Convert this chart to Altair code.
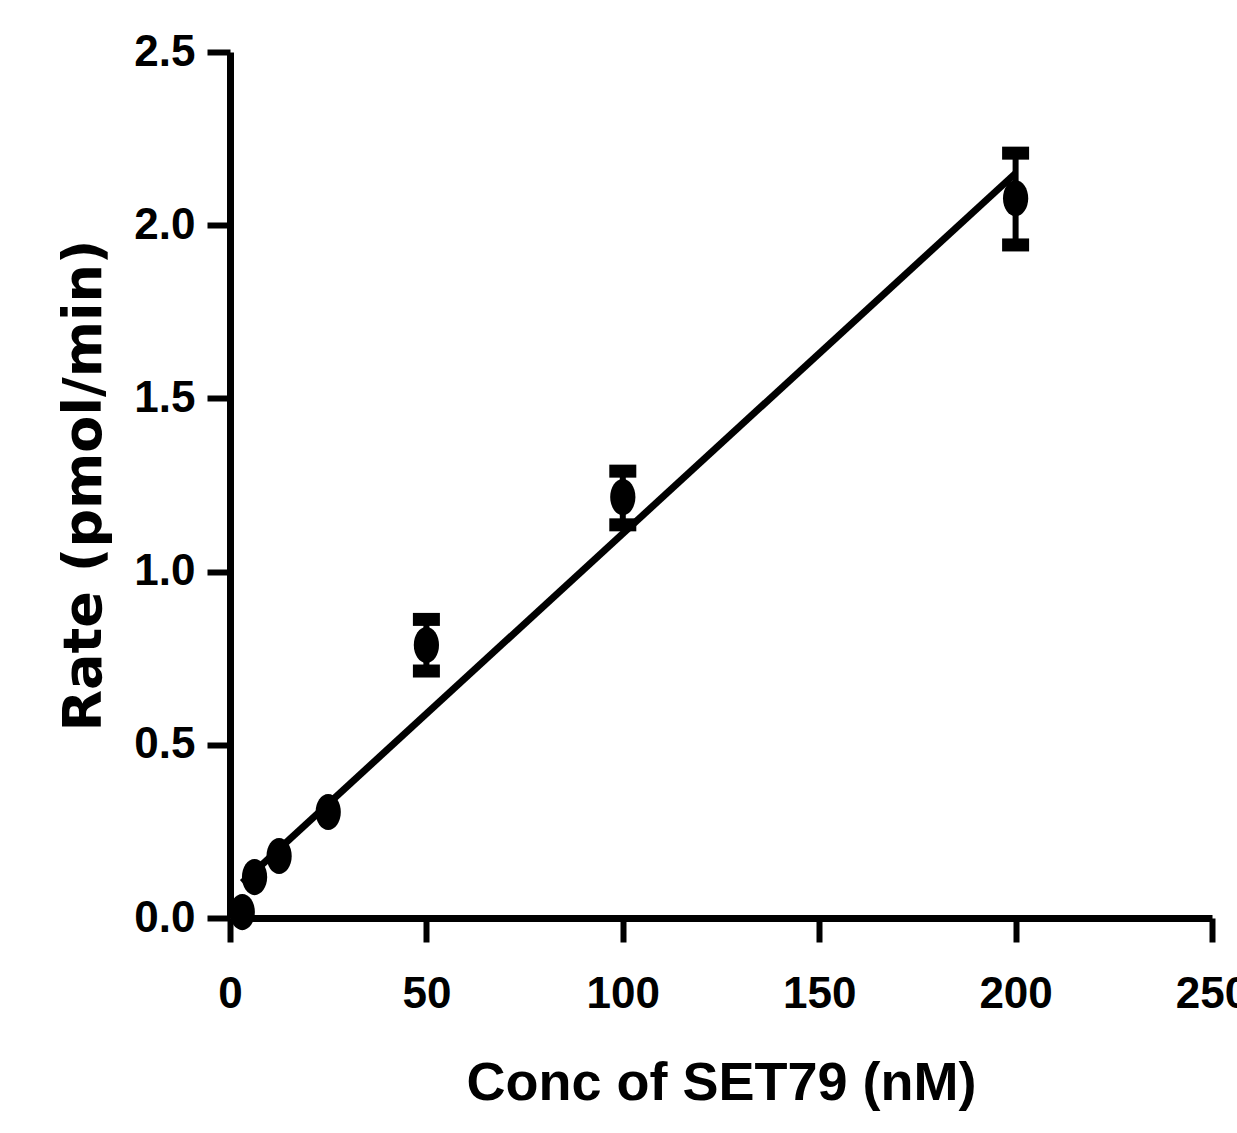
import altair as alt
import pandas as pd

conc = [3.125, 6.25, 12.5, 25, 50, 100, 200]
rate = [0.017, 0.118, 0.179, 0.306, 0.788, 1.215, 2.078]
err_lo = [None, None, None, None, 0.713, 1.135, 1.943]
err_hi = [None, None, None, None, 0.862, 1.290, 2.208]

fit_x = [3.125, 200]
fit_y = [0.102, 2.150]

x_ticks = [0, 50, 100, 150, 200, 250]
y_ticks = [0.0, 0.5, 1.0, 1.5, 2.0, 2.5]

pts = pd.DataFrame({"conc": conc, "rate": rate})
errs = pd.DataFrame({"conc": conc, "lo": err_lo, "hi": err_hi}).dropna()
fit = pd.DataFrame({"conc": fit_x, "rate": fit_y})

xscale = alt.Scale(domain=[0, 250], nice=False, zero=False)
yscale = alt.Scale(domain=[0, 2.5], nice=False, zero=False)

xaxis = alt.Axis(
    values=x_ticks, title="Conc of SET79 (nM)", format="d",
    domainColor="black", domainWidth=7, tickColor="black", tickWidth=6, tickSize=24,
    labelFont="Liberation Sans", labelFontWeight="bold", labelFontSize=44,
    labelColor="black", labelPadding=30, labelFlush=False, labelOverlap=False,
    titleFont="Liberation Sans", titleFontWeight="bold", titleFontSize=54,
    titleColor="black", titlePadding=40, grid=False,
)
yaxis = alt.Axis(
    values=y_ticks, title="Rate (pmol/min)", format=".1f",
    domainColor="black", domainWidth=7, tickColor="black", tickWidth=6, tickSize=23,
    labelFont="Liberation Sans", labelFontWeight="bold", labelFontSize=44,
    labelColor="black", labelPadding=12, labelFlush=False, labelOverlap=False,
    titleFont="DejaVu Sans", titleFontWeight="bold", titleFontSize=54,
    titleColor="black", titlePadding=22, grid=False,
)

line = alt.Chart(fit).mark_line(color="black", strokeWidth=7, clip=False).encode(
    x=alt.X("conc:Q", scale=xscale, axis=xaxis),
    y=alt.Y("rate:Q", scale=yscale, axis=yaxis),
)

bars = alt.Chart(errs).mark_rule(color="black", strokeWidth=6).encode(
    x=alt.X("conc:Q", scale=xscale),
    y=alt.Y("lo:Q", scale=yscale),
    y2="hi:Q",
)
cap_lo = alt.Chart(errs).mark_tick(color="black", orient="horizontal", size=27, thickness=13, opacity=1).encode(
    x=alt.X("conc:Q", scale=xscale),
    y=alt.Y("lo:Q", scale=yscale),
)
cap_hi = alt.Chart(errs).mark_tick(color="black", orient="horizontal", size=27, thickness=13, opacity=1).encode(
    x=alt.X("conc:Q", scale=xscale),
    y=alt.Y("hi:Q", scale=yscale),
)

ellipse = "M0,-1A0.7,1,0,1,1,0,1A0.7,1,0,1,1,0,-1Z"
points = alt.Chart(pts).mark_point(
    shape=ellipse, size=1300, filled=True, color="black", opacity=1, clip=False
).encode(
    x=alt.X("conc:Q", scale=xscale),
    y=alt.Y("rate:Q", scale=yscale),
)

chart = alt.layer(line, bars, cap_lo, cap_hi, points).properties(
    width=982, height=866,
    autosize=alt.AutoSizeParams(type="none"),
    padding={"left": 230, "top": 52, "right": 25, "bottom": 215},
    background="white",
).configure_view(stroke=None)

chart.save("out.html", embed_options={"renderer": "svg", "actions": False})
